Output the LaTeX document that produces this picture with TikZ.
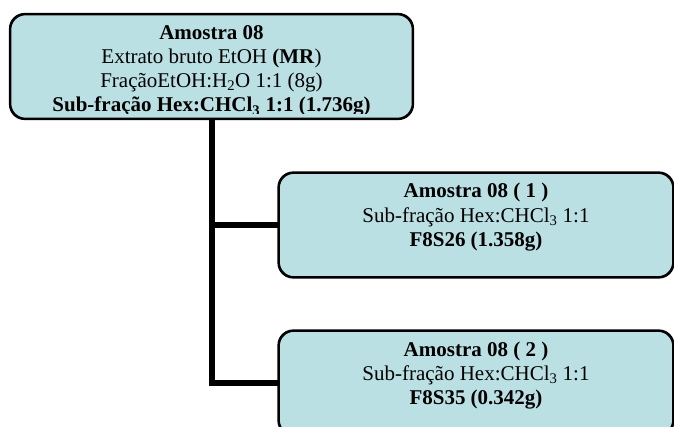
\documentclass[tikz,border=0pt]{standalone}
\usepackage{fontspec}
\setmainfont{Liberation Serif}
\definecolor{boxfill}{RGB}{186,224,227}
\tikzset{
  box/.style={draw=black, line width=1.6pt, fill=boxfill, rounded corners=15pt,
    rectangle, inner sep=0pt},
  boxtext/.style={anchor=base, align=center, inner sep=0pt,
    font={\fontsize{21}{24.2}\selectfont}},
  conn/.style={line width=6pt, line join=miter, draw=black}
}
\begin{document}
\begin{tikzpicture}[x=1pt, y=-1pt]
\useasboundingbox (0,0) rectangle (674,427);
% boxes
\node[box, minimum width=402pt, minimum height=104pt] (top) at (211.5,66.5) {};
\node[box, minimum width=394pt, minimum height=104pt] (b1) at (476,225) {};
\node[box, minimum width=394pt, minimum height=104pt] (b2) at (476,383) {};
% connectors
\draw[conn] (top.south) |- (b2.west);
\draw[conn] (top.south |- b1.west) -- (b1.west);
% redraw borders over connector ends
\draw[line width=1.6pt, rounded corners=15pt] (b1.south west) rectangle (b1.north east);
\draw[line width=1.6pt, rounded corners=15pt] (b2.south west) rectangle (b2.north east);
% texts (last-line baselines)
\begin{scope}
\clip (top.north west) rectangle (top.east |- 0,113.8);
\node[boxtext] (toptext) at (211.5,112.0) {\textbf{Amostra 08}\\
Extrato bruto EtOH \textbf{(MR})\\
FraçãoEtOH:H\textsubscript{2}O 1:1 (8g)\\
\textbf{Sub-fração Hex:CHCl\textsubscript{3} 1:1 (1.736g)}};
\end{scope}
\draw[line width=1.6pt, rounded corners=15pt] (top.south west) rectangle (top.north east);
\node[boxtext] (b1text) at (476,246.3) {\textbf{Amostra 08 ( 1 )}\\
Sub-fração Hex:CHCl\textsubscript{3} 1:1\\
\textbf{F8S26 (1.358g)}};
\node[boxtext] (b2text) at (476,404.5) {\textbf{Amostra 08 ( 2 )}\\
Sub-fração Hex:CHCl\textsubscript{3} 1:1\\
\textbf{F8S35 (0.342g)}};
\end{tikzpicture}
\end{document}
